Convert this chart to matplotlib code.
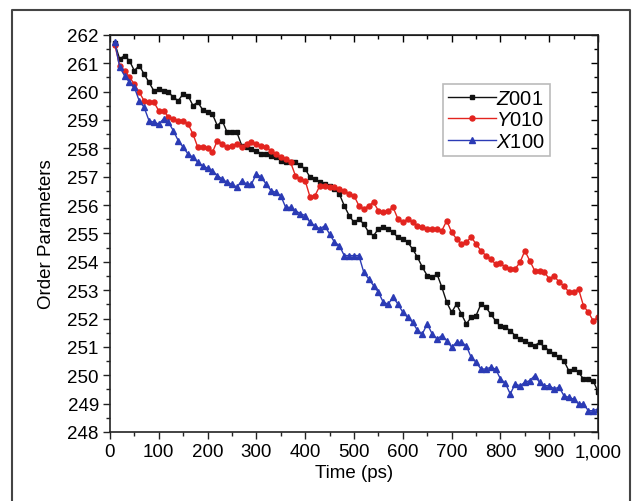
import matplotlib.pyplot as plt
import numpy as np
from matplotlib.lines import Line2D
from matplotlib.ticker import MultipleLocator, FuncFormatter

plt.rcParams['font.family'] = ['Liberation Sans', 'DejaVu Sans']
plt.rcParams['mathtext.fontset'] = 'custom'
plt.rcParams['mathtext.rm'] = 'Liberation Sans'
plt.rcParams['mathtext.it'] = 'Liberation Sans:italic'

time_ps = np.arange(10, 1001, 10)

z001 = [261.70, 261.15, 261.27, 261.09, 260.74, 260.92, 260.62, 260.33, 260.03, 260.09,
        260.03, 259.98, 259.80, 259.68, 259.92, 259.86, 259.51, 259.63, 259.36, 259.27,
        259.21, 258.80, 258.98, 258.57, 258.57, 258.57, 258.10, 258.04, 257.98, 257.92,
        257.80, 257.80, 257.74, 257.69, 257.57, 257.51, 257.51, 257.51, 257.40, 257.27,
        256.98, 256.92, 256.80, 256.74, 256.68, 256.57, 256.39, 255.98, 255.63, 255.39,
        255.51, 255.33, 255.04, 254.92, 255.16, 255.22, 255.16, 255.04, 254.86, 254.80,
        254.69, 254.45, 254.16, 253.81, 253.51, 253.45, 253.57, 253.10, 252.57, 252.22,
        252.51, 252.16, 251.81, 252.04, 252.10, 252.51, 252.40, 252.16, 251.92, 251.72,
        251.69, 251.57, 251.40, 251.28, 251.22, 251.10, 251.04, 251.16, 250.99, 250.87,
        250.75, 250.63, 250.51, 250.16, 250.22, 250.10, 249.87, 249.87, 249.81, 249.40]

y010 = [261.65, 260.92, 260.74, 260.51, 260.27, 259.98, 259.68, 259.63, 259.63, 259.33,
        259.33, 259.10, 259.04, 258.98, 258.98, 258.86, 258.51, 258.04, 258.04, 258.00,
        257.86, 258.27, 258.16, 258.04, 258.10, 258.16, 258.04, 258.16, 258.21, 258.16,
        258.10, 258.04, 257.92, 257.80, 257.69, 257.63, 257.51, 257.04, 256.92, 256.86,
        256.28, 256.33, 256.68, 256.68, 256.63, 256.63, 256.57, 256.51, 256.39, 256.33,
        255.98, 255.86, 255.98, 256.10, 255.80, 255.75, 255.80, 255.92, 255.51, 255.39,
        255.51, 255.39, 255.27, 255.22, 255.16, 255.16, 255.16, 255.10, 255.45, 255.04,
        254.81, 254.63, 254.69, 254.87, 254.63, 254.39, 254.22, 254.10, 253.92, 253.95,
        253.81, 253.75, 253.75, 253.98, 254.39, 254.04, 253.69, 253.69, 253.63, 253.40,
        253.51, 253.28, 253.16, 252.93, 252.93, 253.04, 252.45, 252.22, 251.92, 252.04]

x100 = [261.75, 260.86, 260.56, 260.33, 260.15, 259.68, 259.45, 258.98, 258.92, 258.86,
        259.04, 258.92, 258.62, 258.27, 258.04, 257.80, 257.69, 257.51, 257.39, 257.30,
        257.21, 257.04, 256.92, 256.80, 256.74, 256.63, 256.86, 256.74, 256.74, 257.10,
        256.98, 256.74, 256.51, 256.45, 256.33, 255.92, 255.92, 255.80, 255.70, 255.63,
        255.39, 255.27, 255.16, 255.27, 254.98, 254.69, 254.57, 254.22, 254.22, 254.22,
        254.22, 253.63, 253.40, 253.16, 252.93, 252.57, 252.51, 252.75, 252.51, 252.22,
        252.04, 251.87, 251.58, 251.46, 251.81, 251.46, 251.28, 251.40, 251.22, 250.99,
        251.16, 251.16, 251.04, 250.63, 250.46, 250.22, 250.22, 250.28, 250.22, 249.87,
        249.72, 249.34, 249.69, 249.63, 249.75, 249.81, 249.99, 249.75, 249.63, 249.63,
        249.52, 249.58, 249.28, 249.22, 249.16, 248.99, 248.99, 248.75, 248.75, 248.81]

x_ticks = np.arange(0, 1001, 100)
y_ticks = np.arange(248, 263, 1)

fig = plt.figure(figsize=(6.39, 5.02), dpi=100)
ax = fig.add_axes([0.172, 0.1375, 0.764, 0.791])

ax.plot(time_ps, z001, color='#111111', lw=1.0, marker='s', ms=3.4, label=r'$\mathit{Z}$001')
ax.plot(time_ps, y010, color='#e3241f', lw=1.0, marker='o', ms=3.6, label=r'$\mathit{Y}$010')
ax.plot(time_ps, x100, color='#2b3bb5', lw=1.0, marker='^', ms=3.8, label=r'$\mathit{X}$100')

ax.set_xlim(0, 1000)
ax.set_ylim(248, 262)
ax.set_xticks(x_ticks)
ax.set_yticks(y_ticks)
ax.xaxis.set_minor_locator(MultipleLocator(50))
ax.yaxis.set_minor_locator(MultipleLocator(0.5))
ax.xaxis.set_major_formatter(FuncFormatter(lambda v, p: f'{int(v):,}'))
ax.tick_params(axis='both', which='major', length=5, width=1, labelsize=13.5, pad=3,
               direction='out', color='#222222')
ax.tick_params(axis='both', which='minor', length=3, width=1, direction='out', color='#222222')

# mirrored ticks on top/right pointing inward
top = ax.secondary_xaxis('top')
top.set_xticks(x_ticks)
top.xaxis.set_minor_locator(MultipleLocator(50))
top.tick_params(which='major', direction='in', length=5, width=1, labeltop=False)
top.tick_params(which='minor', direction='in', length=3, width=1)
right = ax.secondary_yaxis('right')
right.set_yticks(y_ticks)
right.yaxis.set_minor_locator(MultipleLocator(0.5))
right.tick_params(which='major', direction='in', length=5, width=1, labelright=False)
right.tick_params(which='minor', direction='in', length=3, width=1)

for s in ax.spines.values():
    s.set_linewidth(1.2)
    s.set_color('#222222')

ax.set_xlabel('Time (ps)', fontsize=13.5, labelpad=3)
ax.set_ylabel('Order Parameters', fontsize=13.5, labelpad=9)

leg = ax.legend(loc='upper left', bbox_to_anchor=(0.682, 0.877), fontsize=14.5,
                frameon=True, fancybox=False, edgecolor='#aaaaaa', handlelength=2.4,
                handletextpad=0.0, labelspacing=0.12, borderpad=0.25, borderaxespad=0)
leg.get_frame().set_linewidth(1.2)

# outer frame around the figure (open at the bottom)
frame = Line2D([0.019, 0.019, 0.986, 0.986], [0.0, 0.978, 0.978, 0.0],
               transform=fig.transFigure, color='#444444', lw=1.5)
fig.add_artist(frame)

fig.savefig('out.png', dpi=100)
